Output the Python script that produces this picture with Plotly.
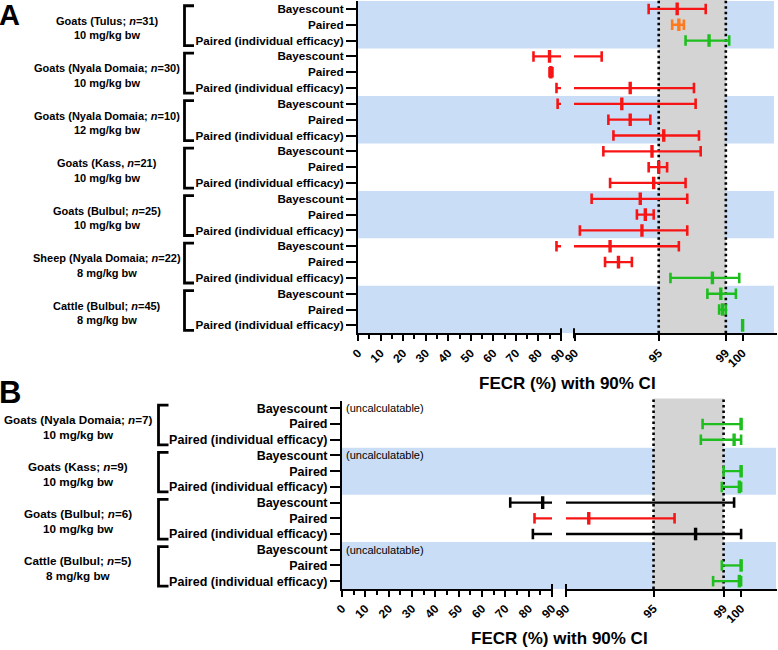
import plotly.graph_objects as go

# ---------------- Data ----------------
methods = ["Bayescount", "Paired", "Paired (individual efficacy)"]

A_groups = ["Goats (Tulus; <i>n</i>=31)", "Goats (Nyala Domaia; <i>n</i>=30)",
            "Goats (Nyala Domaia; <i>n</i>=10)", "Goats (Kass, <i>n</i>=21)",
            "Goats (Bulbul; <i>n</i>=25)", "Sheep (Nyala Domaia; <i>n</i>=22)",
            "Cattle (Bulbul; <i>n</i>=45)"]
A_doses = ["10 mg/kg bw", "10 mg/kg bw", "12 mg/kg bw", "10 mg/kg bw",
           "10 mg/kg bw", "8 mg/kg bw", "8 mg/kg bw"]
A_lower = [94.4, 95.8, 96.6, 77.8, 84.9, 88.0, 88.5, 92.0, 92.3, 91.7, 94.4,
           92.1, 91.0, 93.7, 90.3, 88.0, 91.8, 95.7, 97.9, 98.6, 100.0]
A_est = [96.1, 96.2, 98.0, 84.9, 85.5, 93.3, 92.8, 93.3, 95.3, 94.6, 95.0,
         94.7, 93.9, 94.2, 94.0, 92.1, 92.6, 98.2, 98.7, 98.8, 100.0]
A_upper = [97.8, 96.5, 99.2, 91.6, 86.2, 97.1, 97.2, 94.5, 97.4, 97.5, 95.5,
           96.6, 96.7, 94.7, 96.7, 96.2, 93.4, 99.8, 99.6, 99.0, 100.0]
A_class = ["reduced", "suspected", "normal",
           "reduced", "reduced", "reduced",
           "reduced", "reduced", "reduced",
           "reduced", "reduced", "reduced",
           "reduced", "reduced", "reduced",
           "reduced", "reduced", "normal",
           "normal", "normal", "normal"]

B_groups = ["Goats (Nyala Domaia; <i>n</i>=7)", "Goats (Kass; <i>n</i>=9)",
            "Goats (Bulbul; <i>n</i>=6)", "Cattle (Bulbul; <i>n</i>=5)"]
B_doses = ["10 mg/kg bw", "10 mg/kg bw", "10 mg/kg bw", "8 mg/kg bw"]
B_lower = [None, 97.8, 97.7, None, 99.0, 98.9, 72.1, 82.5, 81.8, None, 98.9, 98.4]
B_est = [None, 100.0, 99.6, None, 100.0, 99.9, 86.0, 91.3, 97.4, None, 100.0, 99.9]
B_upper = [None, 100.0, 100.0, None, 100.0, 100.0, 99.6, 96.2, 100.0, None, 100.0, 100.0]
B_class = ["uncalculatable", "normal", "normal",
           "uncalculatable", "normal", "normal",
           "inconclusive", "reduced", "inconclusive",
           "uncalculatable", "normal", "normal"]

left_ticks = [0, 10, 20, 30, 40, 50, 60, 70, 80, 90]
left_minor = [5, 15, 25, 35, 45, 55, 65, 75, 85]
right_ticks = [90, 95, 99, 100]
threshold_low, threshold_high = 95, 99
axis_break = 90

# ---------------- Styling ----------------
COLORS = {"reduced": "#F71414", "suspected": "#FF7A1F",
          "normal": "#1EBE1E", "inconclusive": "#000000"}
BAND = "#C9DDF6"
GRAY = "#D4D4D4"
FONT = "Liberation Sans, Arial, sans-serif"
W, H = 778, 650


def px(x):
    return x / W


def py(y):
    return 1 - y / H


fig = go.Figure()

panels = {
    "A": dict(groups=A_groups, doses=A_doses, lo=A_lower, est=A_est, hi=A_upper,
              cls=A_class, xl="x", xr="x2", y="y",
              xl_dom=[px(358), px(561)], xr_dom=[px(574), px(777)],
              y_dom=[py(333.3), py(1)], xl_rng=[0, 90], xr_rng=[89.95, 102.05],
              band_groups=[0, 2, 4, 6], row_font=11.7, grp_font=11,
              grp_x=107, br_x=184.5, br_arm=9.5, label_dy=(3.8, -10.7),
              title_x=567.5, title_y=383, letter="A", letter_y=15, letter_size=29,
              band_right=774),
    "B": dict(groups=B_groups, doses=B_doses, lo=B_lower, est=B_est, hi=B_upper,
              cls=B_class, xl="x3", xr="x4", y="y2",
              xl_dom=[px(342), px(552)], xr_dom=[px(566), px(777)],
              y_dom=[py(589), py(400.5)], xl_rng=[0, 90], xr_rng=[90, 102.05],
              band_groups=[1, 3], row_font=12.5, grp_font=11.7,
              grp_x=78, br_x=158.5, br_arm=10, label_dy=(4.5, -10.5),
              title_x=559.5, title_y=638, letter="B", letter_y=392, letter_size=31,
              band_right=776),
}

shapes = []
annotations = []
layout_axes = {}


def keep(v, side):
    return v <= axis_break if side == "left" else v >= axis_break


for key, p in panels.items():
    n = len(p["lo"])
    rows = list(range(1, n + 1))
    yname = "yaxis" if p["y"] == "y" else "yaxis" + p["y"][1:]
    xlname = "xaxis" if p["xl"] == "x" else "xaxis" + p["xl"][1:]
    xrname = "xaxis" + p["xr"][1:]

    # traces: interval lines (clipped per segment), end caps and point estimates
    for c, color in COLORS.items():
        idx = [i for i in range(n) if p["cls"][i] == c]
        if not idx:
            continue
        lx, ly = [], []
        for i in idx:
            lx += [p["lo"][i], p["hi"][i], None]
            ly += [rows[i], rows[i], None]
        caps = [(p["lo"][i], rows[i]) for i in idx] + [(p["hi"][i], rows[i]) for i in idx]
        ests = [(p["est"][i], rows[i]) for i in idx]
        for xa, side in ((p["xl"], "left"), (p["xr"], "right")):
            fig.add_trace(go.Scatter(x=lx, y=ly, mode="lines",
                                     line=dict(color=color, width=2.3),
                                     xaxis=xa, yaxis=p["y"], hoverinfo="skip",
                                     showlegend=False))
            cs = [t for t in caps if keep(t[0], side)]
            es = [t for t in ests if keep(t[0], side)]
            if cs:
                fig.add_trace(go.Scatter(x=[t[0] for t in cs], y=[t[1] for t in cs],
                                         mode="markers",
                                         marker=dict(symbol="line-ns", size=7.5,
                                                     line=dict(color=color, width=2.6)),
                                         xaxis=xa, yaxis=p["y"], hoverinfo="skip",
                                         showlegend=False))
            if es:
                fig.add_trace(go.Scatter(x=[t[0] for t in es], y=[t[1] for t in es],
                                         mode="markers",
                                         marker=dict(symbol="line-ns", size=9,
                                                     line=dict(color=color, width=3.4)),
                                         xaxis=xa, yaxis=p["y"], hoverinfo="skip",
                                         showlegend=False))

    # uncalculatable notes
    for i in range(n):
        if p["cls"][i] == "uncalculatable":
            annotations.append(dict(text="(uncalculatable)", x=0, y=rows[i],
                                    xref=p["xl"], yref=p["y"], xanchor="left",
                                    yanchor="middle", xshift=2, showarrow=False,
                                    font=dict(size=11, color="black", family=FONT)))

    # axes
    axis_common = dict(showgrid=False, zeroline=False, showline=True,
                       linecolor="black", linewidth=2, ticks="outside",
                       tickcolor="black", tickwidth=2, ticklen=6, tickangle=-45,
                       tickfont=dict(size=12, color="black", family=FONT, weight="bold"),
                       anchor=p["y"], fixedrange=True, automargin=False)
    layout_axes[xlname] = dict(axis_common, domain=p["xl_dom"], range=p["xl_rng"],
                               tickmode="array", tickvals=left_ticks,
                               ticktext=[str(v) for v in left_ticks],
                               minor=dict(tickmode="array", tickvals=left_minor,
                                          ticks="outside", ticklen=4, tickwidth=2,
                                          tickcolor="black"))
    layout_axes[xrname] = dict(axis_common, domain=p["xr_dom"], range=p["xr_rng"],
                               tickmode="array", tickvals=right_ticks,
                               ticktext=[str(v) for v in right_ticks])
    layout_axes[yname] = dict(domain=p["y_dom"], range=[n + 0.5, 0.5],
                              anchor=p["xl"], showgrid=False, zeroline=False,
                              showline=True, linecolor="black", linewidth=2,
                              ticks="outside", tickcolor="black", tickwidth=2,
                              ticklen=10, tickmode="array", tickvals=rows,
                              ticktext=methods * (n // 3),
                              tickfont=dict(size=p["row_font"], color="black",
                                            family=FONT, weight="bold"),
                              fixedrange=True, automargin=False)

    # bands
    for g in p["band_groups"]:
        shapes.append(dict(type="rect", xref="paper", yref=p["y"],
                           x0=p["xl_dom"][0], x1=px(p["band_right"]),
                           y0=3 * g + 0.5, y1=3 * g + 3.5,
                           fillcolor=BAND, line=dict(width=0), layer="below"))
    # gray threshold region and dotted lines
    shapes.append(dict(type="rect", xref=p["xr"], yref=p["y"] + " domain",
                       x0=threshold_low, x1=threshold_high, y0=0, y1=1.01,
                       fillcolor=GRAY, line=dict(width=0), layer="below"))
    for v in (threshold_low, threshold_high):
        shapes.append(dict(type="line", xref=p["xr"], yref=p["y"] + " domain",
                           x0=v, x1=v, y0=0, y1=1.01,
                           line=dict(color="black", width=2.6, dash="2.6px,2.9px"),
                           layer="below"))
    # axis break marks
    ybot = p["y_dom"][0]
    for xr_, xv in ((p["xl"] + " domain", 1), (p["xr"] + " domain", 0)):
        shapes.append(dict(type="line", xref=xr_, yref="paper", x0=xv, x1=xv,
                           y0=ybot - 5 / H, y1=ybot + 5 / H,
                           line=dict(color="black", width=2)))
    # brackets and group labels
    for g, (name, dose) in enumerate(zip(p["groups"], p["doses"])):
        c = 3 * g + 2
        top, bot = c - 1.2, c + 1.32
        x0 = px(p["br_x"])
        x1 = px(p["br_x"] + p["br_arm"])
        shapes.append(dict(type="path", xref="paper", yref=p["y"],
                           path=f"M {x1},{top} L {x0},{top} L {x0},{bot} L {x1},{bot}",
                           line=dict(color="black", width=2.8)))
        annotations.append(dict(text=f"<b>{name}</b>", x=px(p["grp_x"]), y=c,
                                xref="paper", yref=p["y"], xanchor="center",
                                yanchor="middle", yshift=p["label_dy"][0],
                                showarrow=False,
                                font=dict(size=p["grp_font"], color="black", family=FONT)))
        annotations.append(dict(text=f"<b>{dose}</b>", x=px(p["grp_x"]), y=c,
                                xref="paper", yref=p["y"], xanchor="center",
                                yanchor="middle", yshift=p["label_dy"][1],
                                showarrow=False,
                                font=dict(size=p["grp_font"], color="black", family=FONT)))
    # axis title & panel letter
    annotations.append(dict(text="<b>FECR (%) with 90% CI</b>", x=px(p["title_x"]),
                            y=py(p["title_y"]), xref="paper", yref="paper",
                            xanchor="center", yanchor="middle", showarrow=False,
                            font=dict(size=17, color="black", family=FONT)))
    annotations.append(dict(text=f"<b>{p['letter']}</b>", x=0, y=py(p["letter_y"]),
                            xref="paper", yref="paper", xanchor="left", xshift=-3,
                            yanchor="middle", showarrow=False,
                            font=dict(size=p["letter_size"], color="black", family=FONT)))

fig.update_layout(template="none", width=W, height=H, autosize=False,
                  margin=dict(l=0, r=0, t=0, b=0, pad=0, autoexpand=False),
                  paper_bgcolor="white", plot_bgcolor="rgba(0,0,0,0)",
                  showlegend=False, shapes=shapes, annotations=annotations,
                  font=dict(family=FONT, color="black"), **layout_axes)

fig.write_html("out.html")
